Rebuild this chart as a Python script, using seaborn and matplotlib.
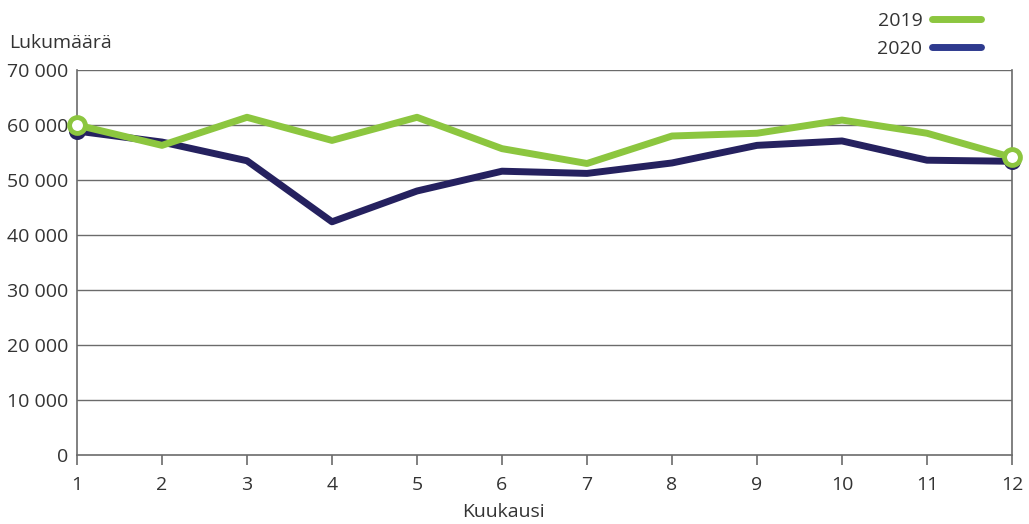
import numpy as np
import pandas as pd
import matplotlib
matplotlib.use("Agg")
import matplotlib.pyplot as plt
from matplotlib.lines import Line2D
import seaborn as sns

months = [1, 2, 3, 4, 5, 6, 7, 8, 9, 10, 11, 12]
values_2019 = [60000, 56300, 61400, 57200, 61400, 55700, 53000, 58000, 58500, 60900, 58500, 54100]
values_2020 = [58900, 56900, 53500, 42400, 48000, 51600, 51200, 53100, 56300, 57100, 53600, 53400]
years = ["2019", "2020"]
y_ticks = [0, 10000, 20000, 30000, 40000, 50000, 60000, 70000]

green = "#8CC63F"
navy = "#25215F"
legend_navy = "#2E3A8E"
grid_col = "#6b6b6b"
text_col = "#333333"

df = pd.DataFrame({
    "Kuukausi": months * 2,
    "Lukumäärä": values_2019 + values_2020,
    "Vuosi": [years[0]] * 12 + [years[1]] * 12,
})

sns.set_theme(style="white")
plt.rcParams["font.family"] = ["Open Sans", "DejaVu Sans"]

fig = plt.figure(figsize=(10.29, 5.24), dpi=100)
ax = fig.add_axes([0.0748, 0.1317, 0.9087, 0.7347])

for yv in y_ticks[1:]:
    ax.axhline(yv, color=grid_col, lw=1.0, zorder=1)

# 2020 first so the 2019 line is drawn over it
sns.lineplot(data=df[df["Vuosi"] == "2020"], x="Kuukausi", y="Lukumäärä",
             color=navy, lw=5, ax=ax, zorder=3, legend=False)
sns.lineplot(data=df[df["Vuosi"] == "2019"], x="Kuukausi", y="Lukumäärä",
             color=green, lw=5, ax=ax, zorder=4, legend=False)

# endpoint markers
ends = [0, -1]
ax.scatter([months[i] for i in ends], [values_2020[i] for i in ends],
           s=150, color=navy, zorder=5, linewidths=0, clip_on=False)
ax.scatter([months[i] for i in ends], [values_2019[i] for i in ends],
           s=130, facecolor="white", edgecolor=green, linewidths=3.5,
           zorder=6, clip_on=False)

ax.set_xlim(1, 12)
ax.set_ylim(0, 70000)
ax.set_xticks(months)
ax.set_xticklabels([str(m) for m in months])
ax.set_yticks(y_ticks)
ax.set_yticklabels([f"{v:,}".replace(",", " ") for v in y_ticks])
ax.tick_params(axis="x", length=7, width=1.2, color=grid_col, pad=8,
               labelsize=14, labelcolor=text_col, direction="out", bottom=True)
ax.tick_params(axis="y", length=0, pad=6, labelsize=14, labelcolor=text_col)

for side in ["left", "bottom", "right"]:
    ax.spines[side].set_visible(True)
    ax.spines[side].set_color(grid_col)
    ax.spines[side].set_linewidth(1.2)
ax.spines["top"].set_visible(False)

ax.set_xlabel("")
ax.set_ylabel("")
fig.text(0.489, 0.023, "Kuukausi", fontsize=14, color=text_col, ha="center", va="center")
fig.text(0.009, 0.917, "Lukumäärä", fontsize=14, color=text_col, ha="left", va="center")

handles = [Line2D([0], [0], color=green, lw=5, solid_capstyle="round"),
           Line2D([0], [0], color=legend_navy, lw=5, solid_capstyle="round")]
fig.legend(handles, years, loc="upper right", bbox_to_anchor=(0.970, 1.01),
           frameon=False, markerfirst=False, fontsize=14, handlelength=2.5,
           handletextpad=0.5, labelspacing=0.5, labelcolor=text_col)

fig.savefig("out.png", dpi=100)
